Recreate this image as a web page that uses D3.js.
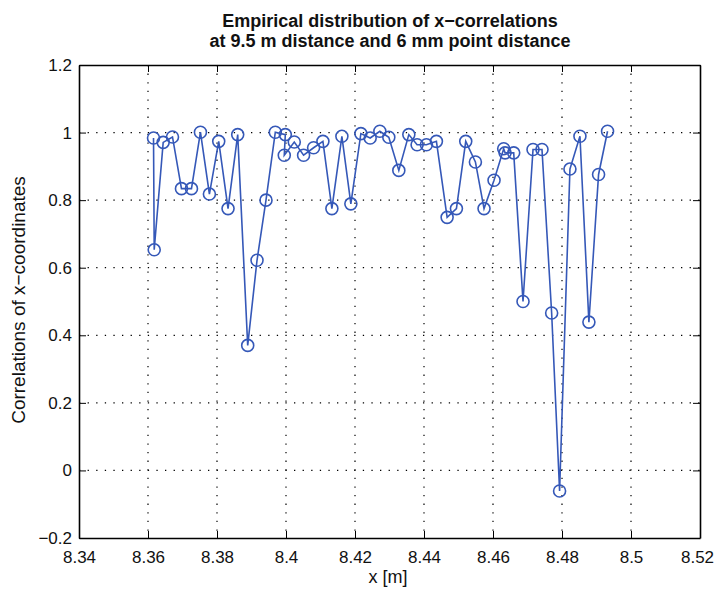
<!DOCTYPE html>
<html><head><meta charset="utf-8">
<script src="https://cdn.jsdelivr.net/npm/d3@7"></script>
<style>body{margin:0;background:#fff}svg{display:block}text{font-family:"Liberation Sans",Arial,sans-serif}</style>
</head><body><svg id="c" width="715" height="589"></svg>
<script>
const xVals = [8.3616,8.3618,8.3644,8.3671,8.3697,8.3726,8.3752,8.3778,8.3805,8.3832,8.3860,8.3889,8.3916,8.3942,8.3969,8.3998,8.3995,8.4024,8.4051,8.4080,8.4107,8.4133,8.4162,8.4188,8.4217,8.4244,8.4272,8.4298,8.4327,8.4356,8.4380,8.4407,8.4436,8.4467,8.4494,8.4521,8.4549,8.4574,8.4603,8.4631,8.4635,8.4660,8.4687,8.4716,8.4742,8.4770,8.4793,8.4823,8.4852,8.4878,8.4906,8.4932];
const yVals = [0.984,0.653,0.971,0.987,0.834,0.834,1.001,0.818,0.974,0.775,0.994,0.370,0.622,0.800,1.001,0.994,0.933,0.972,0.933,0.955,0.974,0.775,0.989,0.789,0.997,0.984,1.004,0.986,0.888,0.994,0.964,0.964,0.974,0.749,0.775,0.974,0.913,0.775,0.859,0.952,0.940,0.940,0.500,0.950,0.950,0.466,-0.061,0.892,0.989,0.439,0.876,1.004];
const xTicks = [8.34,8.36,8.38,8.4,8.42,8.44,8.46,8.48,8.5,8.52];
const yTicks = [-0.2,0,0.2,0.4,0.6,0.8,1,1.2];
const titleLines = ["Empirical distribution of x\u2212correlations","at 9.5 m distance and 6 mm point distance"];
const xLabel = "x [m]";
const yLabel = "Correlations of x\u2212coordinates";

const svg = d3.select("#c");
const L=79,R=700,T=65,B=538;
const x = d3.scaleLinear().domain([8.34,8.52]).range([L,R]);
const y = d3.scaleLinear().domain([-0.2,1.2]).range([B,T]);
const fmt = v => (v<0?"\u2212":"") + String(Math.abs(+v.toFixed(2)));

// grid
const g = svg.append("g");
g.selectAll(".gx").data(xTicks.slice(1,-1)).enter().append("line")
 .attr("x1",d=>x(d)).attr("x2",d=>x(d)).attr("y1",T).attr("y2",B)
 .attr("stroke","#000").attr("stroke-width",1.2).attr("stroke-dasharray","1.3,7.3");
g.selectAll(".gy").data(yTicks.slice(1,-1)).enter().append("line")
 .attr("y1",d=>y(d)).attr("y2",d=>y(d)).attr("x1",L).attr("x2",R)
 .attr("stroke","#000").attr("stroke-width",1.2).attr("stroke-dasharray","1.3,7.3");

// axes (MATLAB-like box with inward ticks)
const axB = d3.axisBottom(x).tickValues(xTicks).tickSizeInner(-7).tickSizeOuter(0).tickPadding(13).tickFormat(fmt);
const axL = d3.axisLeft(y).tickValues(yTicks).tickSizeInner(-7).tickSizeOuter(0).tickPadding(7).tickFormat(fmt);
const axT = d3.axisTop(x).tickValues(xTicks).tickSizeInner(-7).tickSizeOuter(0).tickFormat("");
const axR = d3.axisRight(y).tickValues(yTicks).tickSizeInner(-7).tickSizeOuter(0).tickFormat("");
[[axB,`translate(0,${B})`],[axL,`translate(${L},0)`],[axT,`translate(0,${T})`],[axR,`translate(${R},0)`]].forEach(([a,t],i)=>{
  const gg = svg.append("g").attr("class","ax"+i).attr("transform",t).call(a);
  gg.select(".domain").attr("stroke","#000").attr("stroke-width",1.6);
  gg.selectAll(".tick line").attr("stroke","#000").attr("stroke-width",1);
  gg.selectAll("text").attr("fill","#111").style("font-size","17px").style("font-family",'"Liberation Sans",Arial,sans-serif');
});
// keep the last x tick label inside the page
svg.select(".ax0").selectAll(".tick text").filter(d=>d===xTicks[xTicks.length-1]).attr("dx",-3);

// data line + markers
const pts = xVals.map((v,i)=>[v,yVals[i]]);
svg.append("path").datum(pts)
 .attr("d",d3.line().x(d=>x(d[0])).y(d=>y(d[1])))
 .attr("fill","none").attr("stroke","#3558b8").attr("stroke-width",1.6);
svg.selectAll(".pt").data(pts).enter().append("circle")
 .attr("cx",d=>x(d[0])).attr("cy",d=>y(d[1])).attr("r",6)
 .attr("fill","none").attr("stroke","#3558b8").attr("stroke-width",1.6);

// title
svg.append("text").attr("x",390).attr("y",27).attr("text-anchor","middle")
 .style("font-size","18px").style("font-weight","bold").attr("fill","#111").text(titleLines[0]);
svg.append("text").attr("x",390).attr("y",47).attr("text-anchor","middle")
 .style("font-size","18px").style("font-weight","bold").attr("fill","#111").text(titleLines[1]);
// axis labels
svg.append("text").attr("x",388).attr("y",583).attr("text-anchor","middle")
 .style("font-size","18px").attr("fill","#111").text(xLabel);
svg.append("text").attr("transform","translate(25,300) rotate(-90)").attr("text-anchor","middle")
 .style("font-size","19px").attr("fill","#111").text(yLabel);
</script></body></html>
